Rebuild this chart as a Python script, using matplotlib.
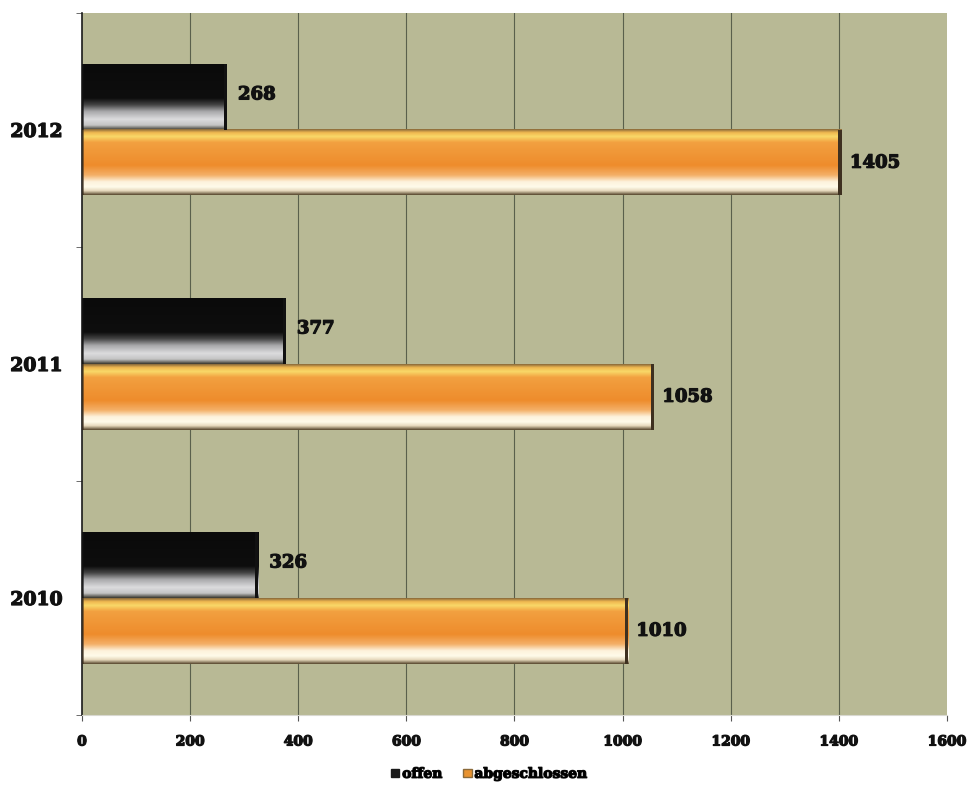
import numpy as np
import matplotlib.pyplot as plt
import matplotlib.patheffects as pe
from matplotlib.colors import LinearSegmentedColormap
from matplotlib.patches import Rectangle

years = ["2010", "2011", "2012"]
offen = [326, 377, 268]
abgeschlossen = [1010, 1058, 1405]
x_ticks = [0, 200, 400, 600, 800, 1000, 1200, 1400, 1600]

BG = "#b8b995"
BAR_H = 0.28
FONT = "DejaVu Serif"
HEAVY = [pe.withStroke(linewidth=0.9, foreground="#111111")]

# vertical shading profiles (top -> bottom) giving a bevelled look
dark_cmap = LinearSegmentedColormap.from_list("dark", [
    (0.00, "#0a0a0a"), (0.52, "#0e0e0e"), (0.62, "#454545"),
    (0.72, "#a8a8aa"), (0.84, "#dcdcde"), (0.93, "#c4c4c4"), (1.00, "#3c3a30")])
orange_cmap = LinearSegmentedColormap.from_list("orange", [
    (0.00, "#8a6a3a"), (0.05, "#f0b850"), (0.11, "#f9d868"), (0.20, "#f2a040"),
    (0.55, "#ee8c2c"), (0.70, "#f4b068"), (0.80, "#fdf2dc"), (0.88, "#fffbea"),
    (0.94, "#e6d8bc"), (1.00, "#5a4a30")])

fig = plt.figure(figsize=(9.69, 7.88), dpi=100)
ax = fig.add_axes([0.0846, 0.0926, 0.8927, 0.891])
ax.set_facecolor(BG)
ax.set_xlim(0, 1600)
ax.set_ylim(-0.5, 2.5)

for xv in x_ticks[1:-1]:
    ax.axvline(xv, color="#5a604c", lw=0.8, zorder=1)

grad = np.linspace(0, 1, 200).reshape(-1, 1)


def shaded_bar(y_bottom, value, cmap, edge):
    ax.imshow(grad, cmap=cmap, aspect="auto", interpolation="bilinear",
              extent=(0, value, y_bottom, y_bottom + BAR_H), origin="upper", zorder=2)
    # darker right end for depth
    ax.add_patch(Rectangle((value - 6, y_bottom), 6, BAR_H, color=edge, lw=0, zorder=3))
    ax.add_patch(Rectangle((0, y_bottom), 4, BAR_H, color=edge, alpha=0.6, lw=0, zorder=3))


for i in range(len(years)):
    shaded_bar(i, offen[i], dark_cmap, "#111111")
    shaded_bar(i - BAR_H, abgeschlossen[i], orange_cmap, "#3e3020")
    ax.annotate(str(offen[i]), (offen[i], i + BAR_H / 2), xytext=(8, 2),
                textcoords="offset points", va="center", ha="left",
                fontsize=13, fontweight="bold", family=FONT, color="#111111",
                zorder=5, path_effects=HEAVY)
    ax.annotate(str(abgeschlossen[i]), (abgeschlossen[i], i - BAR_H / 2), xytext=(6, 0),
                textcoords="offset points", va="center", ha="left",
                fontsize=13, fontweight="bold", family=FONT, color="#111111",
                zorder=5, path_effects=HEAVY)

ax.set_xticks(x_ticks)
ax.set_xticklabels([str(v) for v in x_ticks], fontsize=10, fontweight="bold", family=FONT)
ax.set_yticks(range(len(years)))
ax.set_yticklabels(years, fontsize=13.5, fontweight="bold", family=FONT)
for lbl in ax.get_xticklabels() + ax.get_yticklabels():
    lbl.set_path_effects(HEAVY)
    lbl.set_color("#111111")
ax.set_yticks([-0.5, 0.5, 1.5, 2.5], minor=True)
ax.tick_params(axis="y", which="major", length=0, pad=14)
ax.tick_params(axis="y", which="minor", length=4, color="#555555")
ax.tick_params(axis="x", length=4, color="#555555", pad=10)

for side in ("top", "right"):
    ax.spines[side].set_visible(False)
ax.spines["left"].set_color("#1a1a1a")
ax.spines["left"].set_linewidth(1.2)
ax.spines["bottom"].set_color("#d8d8d0")

handles = [Rectangle((0, 0), 1, 1, color="#1a1a1a"),
           Rectangle((0, 0), 1, 1, color="#e8922f", ec="#8a6a3a")]
leg = fig.legend(handles, ["offen", "abgeschlossen"], loc="center", ncol=2,
                 bbox_to_anchor=(0.505, 0.018), frameon=False, handlelength=0.6,
                 handleheight=0.6, handletextpad=0.2, columnspacing=1.5,
                 prop={"family": FONT, "weight": "bold", "size": 10})
for t in leg.get_texts():
    t.set_path_effects(HEAVY)

fig.savefig("out.png", dpi=100, facecolor="white")
